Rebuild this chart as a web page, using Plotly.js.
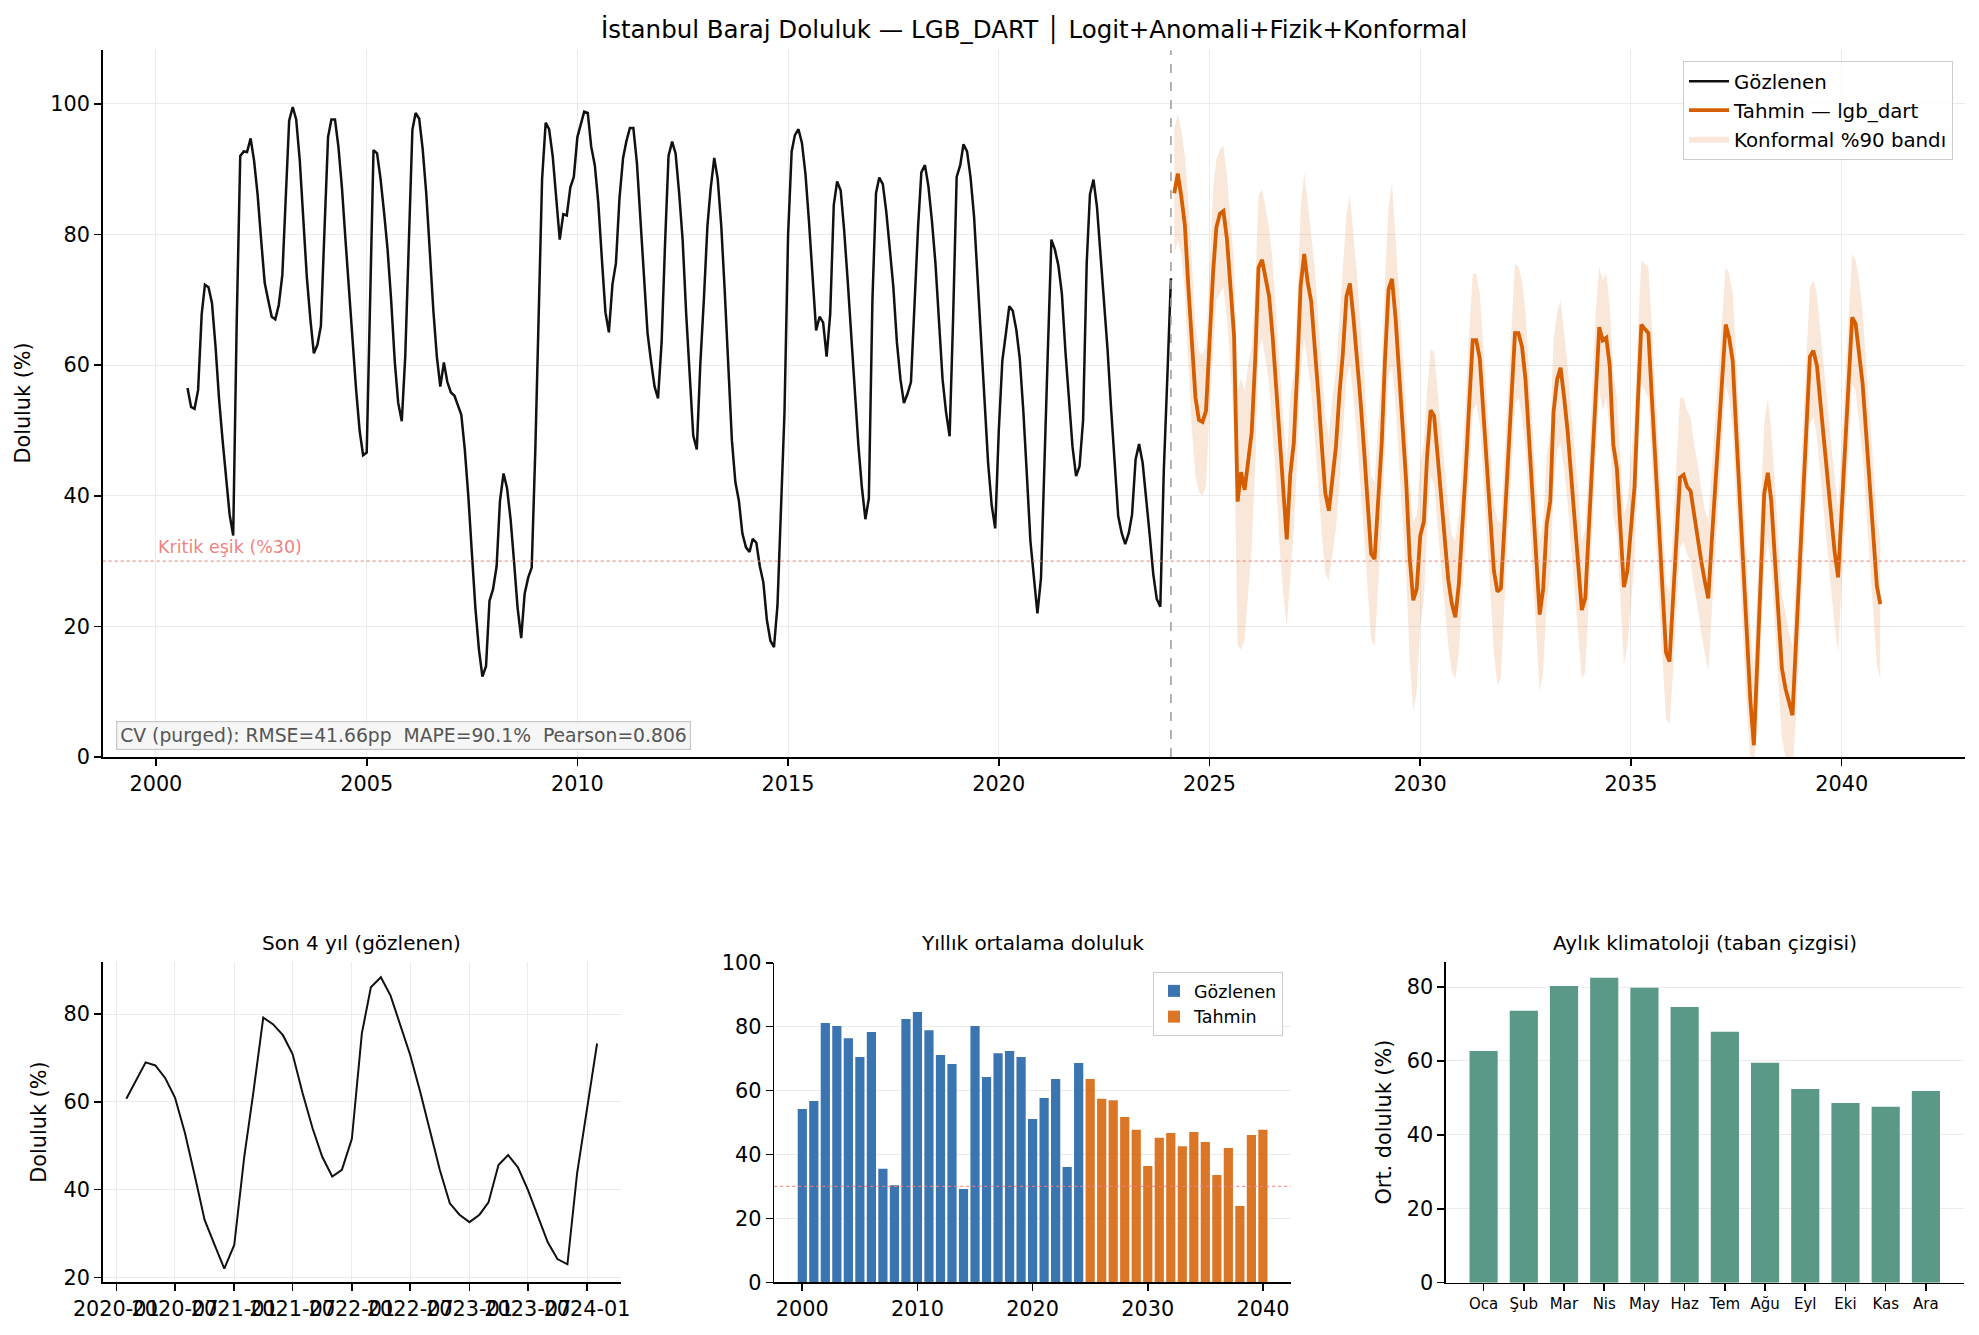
<!DOCTYPE html>
<html>
<head>
<meta charset="utf-8">
<script src="https://cdn.plot.ly/plotly-3.0.1.min.js"></script>
<style>
html,body{margin:0;padding:0;background:#fff;}
#chart{width:1979px;height:1335px;}
</style>
</head>
<body>
<div id="chart"></div>
<script>
// ---------------- DATA ----------------
// Observed monthly fill (%), Oct 2000 .. Feb 2024
const obsStart = {year: 2000, month: 10};
const obsValues = [
  56.5, 53.6, 53.3,
  56.2, 67.8, 72.3, 71.9, 69.5, 62.8, 54.9, 48.5, 42.8, 37.1, 33.9, 66.2,
  92.0, 92.7, 92.6, 94.7, 91.3, 86.0, 79.2, 72.6, 69.9, 67.4, 67.0, 69.2,
  73.8, 85.6, 97.4, 99.5, 97.6, 91.3, 82.0, 73.5, 67.0, 61.8, 63.1, 66.0,
  80.6, 94.9, 97.6, 97.6, 93.4, 87.0, 79.2, 71.3, 62.8, 56.3, 49.9, 46.2,
  46.6, 70.0, 92.9, 92.4, 88.5, 83.3, 77.7, 69.9, 60.6, 54.2, 51.4, 61.3,
  80.0, 96.0, 98.6, 97.7, 93.1, 86.3, 77.7, 68.5, 61.3, 56.7, 60.4, 57.4,
  55.8, 55.3, 53.9, 52.4, 47.1, 39.9, 31.4, 22.8, 16.4, 12.3, 13.9, 23.9,
  25.7, 29.2, 39.2, 43.4, 41.2, 36.4, 29.9, 22.8, 18.2, 25.0, 27.5, 29.0,
  46.8, 66.5, 88.4, 97.1, 96.1, 92.0, 85.6, 79.2, 83.1, 82.9, 87.2, 88.8,
  94.9, 97.0, 98.8, 98.6, 93.4, 90.6, 84.9, 76.3, 68.1, 65.0, 72.4, 75.6,
  85.6, 91.7, 94.2, 96.3, 96.3, 90.9, 82.7, 72.8, 64.9, 60.6, 56.7, 54.9,
  63.5, 79.2, 92.0, 94.2, 92.4, 86.3, 79.2, 67.8, 59.2, 49.2, 47.1, 60.0,
  70.0, 81.3, 87.0, 91.7, 88.5, 81.3, 71.3, 60.6, 48.5, 42.1, 39.2, 34.2,
  32.1, 31.4, 33.4, 32.8, 29.2, 26.7, 21.0, 17.8, 16.8, 23.2, 38.5, 52.8,
  79.9, 92.7, 95.2, 96.1, 94.0, 89.2, 82.0, 74.2, 65.3, 67.4, 66.5, 61.3,
  67.8, 84.5, 88.1, 86.7, 80.6, 72.8, 64.2, 56.3, 47.8, 41.4, 36.4, 39.6,
  70.0, 86.3, 88.7, 87.7, 83.5, 77.7, 72.0, 63.5, 57.8, 54.2, 55.6, 57.4,
  69.9, 81.3, 89.5, 90.6, 87.4, 82.0, 75.6, 67.0, 57.8, 52.8, 49.1, 67.0,
  88.8, 90.6, 93.8, 92.7, 88.8, 82.7, 73.5, 63.5, 54.2, 44.9, 38.5, 35.0,
  49.9, 60.7, 64.6, 69.0, 68.3, 65.4, 61.0, 52.9, 43.0, 33.1, 27.4, 22.0,
  27.4, 47.5, 62.0, 79.2, 77.7, 75.2, 70.9, 62.0, 54.0, 47.5, 43.0, 44.5,
  51.6, 75.6, 86.1, 88.4, 84.2, 77.1, 70.7, 62.3, 53.2, 44.5, 36.9, 34.3,
  32.6, 34.3, 37.1, 45.6, 47.9, 45.0, 40.0, 34.0, 28.0, 24.2, 23.0, 43.7,
  58.2, 73.3
];

// Forecast (lgb_dart), Mar 2024 .. Dec 2040
const fcStart = {year: 2024, month: 3};
const fcValues = [
  86.3, 89.3, 85.8, 81.4, 72.0, 63.0, 55.0, 51.6, 51.3, 53.0,
  64.0, 74.3, 81.1, 83.2, 83.6, 79.2, 72.0, 64.5, 39.1, 43.6, 40.9, 45.4,
  49.7, 61.0, 74.9, 76.1, 73.2, 70.5, 64.5, 56.3, 47.5, 39.9, 33.3, 43.2,
  48.1, 59.6, 72.1, 77.0, 72.7, 69.7, 63.4, 55.7, 47.5, 40.4, 37.7, 43.2,
  47.5, 55.7, 61.7, 70.5, 72.5, 67.2, 61.7, 54.6, 47.0, 38.8, 31.1, 30.3,
  40.4, 48.1, 60.7, 71.6, 73.2, 67.2, 59.0, 50.8, 42.1, 30.6, 24.0, 25.7,
  33.9, 36.0, 46.0, 53.1, 52.2, 46.0, 40.0, 33.5, 27.1, 23.5, 21.4, 26.4,
  35.0, 44.5, 54.0, 63.8, 63.8, 61.0, 53.0, 44.5, 36.5, 28.5, 25.3, 25.8,
  35.5, 45.5, 55.0, 64.9, 64.9, 62.8, 57.8, 48.5, 39.5, 30.5, 21.8, 25.7,
  35.7, 39.2, 52.8, 57.8, 59.6, 55.0, 49.9, 43.0, 36.0, 29.0, 22.5, 24.3,
  35.0, 46.0, 57.1, 65.8, 63.8, 64.2, 59.9, 47.8, 44.2, 35.0, 26.0, 28.5,
  35.0, 41.4, 54.0, 66.2, 65.5, 64.9, 55.0, 45.0, 35.5, 26.0, 16.0, 14.6,
  24.0, 33.5, 42.8, 43.2, 41.4, 40.7, 37.0, 33.5, 30.0, 27.0, 24.3, 33.0,
  41.5, 50.0, 58.0, 66.2, 64.2, 60.6, 50.0, 39.5, 29.0, 18.5, 8.6, 1.8,
  14.5, 27.5, 40.3, 43.5, 39.2, 30.5, 22.0, 13.6, 10.5, 8.2, 6.4, 17.4,
  28.4, 39.3, 50.3, 61.3, 62.2, 59.9, 54.2, 48.5, 42.8, 37.1, 31.4, 27.5,
  37.5, 47.4, 57.4, 67.3, 66.3, 62.0, 57.1, 49.4, 41.6, 33.9, 26.2, 23.4
];

// Conformal 90% band, lower and upper
const bandLower = [
  77, 79, 77, 71, 60, 50, 43, 40.5, 40, 41.5,
  53, 62, 70, 71, 72, 67, 60, 50, 17, 16.5, 18, 25,
  32, 45, 62, 64, 61, 57, 50, 42, 32, 25, 20, 28,
  35, 46, 59, 64, 60, 56, 49, 41, 34, 28, 27, 31,
  35, 42, 49, 58, 60, 55, 49, 42, 34, 26, 18, 17,
  27, 35, 47, 58, 60, 54, 45, 37, 28, 15, 7, 10,
  20, 24, 35, 43, 42, 35, 29, 23, 17, 13, 12, 16,
  24, 33, 43, 53, 54, 51, 43, 34, 25, 16, 11, 12,
  24, 34, 44, 54, 55, 52, 47, 38, 29, 19, 10, 13,
  24, 28, 41, 47, 48, 44, 39, 32, 25, 19, 12, 13,
  24, 35, 46, 56, 53, 55, 50, 37, 34, 24, 14, 17,
  24, 30, 44, 57, 56, 55, 45, 34, 24, 15, 6, 5,
  13, 23, 32, 33, 31, 30, 26, 23, 19, 16, 13, 22,
  31, 40, 48, 57, 55, 50, 39, 29, 18, 7, 0, -1,
  4, 17, 29, 33, 29, 20, 11, 3, 0, -1.5, -2, 6,
  17, 28, 39, 51, 52, 49, 43, 37, 31, 26, 20, 16,
  26, 36, 46, 57, 56, 51, 46, 38, 30, 22, 14, 12
];
const bandUpper = [
  96, 98.5, 96, 92, 85, 76, 66, 62, 61.5, 63,
  76, 87, 91.5, 93, 93.5, 89, 82, 76, 56, 58, 56, 60,
  63, 72, 86, 87, 84, 81, 76, 68, 59, 52, 45, 55,
  59, 70, 84, 89.5, 85, 80, 75, 67, 59, 52, 49, 55,
  59, 67, 74, 83, 86, 80, 74, 66, 59, 50, 43, 42,
  52, 60, 73, 84, 88, 80, 71, 62, 53, 42, 36, 37,
  45, 48, 56, 62.5, 62, 56, 50, 44, 38, 34, 33, 37,
  46, 55, 65, 74, 74, 71, 63, 55, 47, 39, 36, 36,
  46, 56, 66, 75.5, 75, 73, 68, 59, 50, 41, 33, 36,
  46, 50, 64, 68, 70, 65, 60, 53, 47, 41, 33, 35,
  45, 57, 68, 75, 73, 74, 69, 59, 55, 46, 37, 39,
  46, 52, 65, 76, 75.5, 75, 66, 56, 47, 37, 27, 25,
  35, 45, 55, 55, 53, 52, 48, 45, 41, 38, 36, 44,
  52, 61, 68, 75, 74, 71, 61, 51, 40, 30, 20, 13,
  26, 38, 51, 55, 50, 42, 33, 25, 22, 19, 17, 29,
  40, 51, 62, 72, 73, 71, 65, 60, 54, 48, 43, 38,
  48, 58, 68, 77, 76, 73, 68, 60, 53, 45, 37, 33
];

// Annual means
const annualObsYears = [2000,2001,2002,2003,2004,2005,2006,2007,2008,2009,2010,2011,2012,
                        2013,2014,2015,2016,2017,2018,2019,2020,2021,2022,2023,2024];
const annualObsValues = [54.2,56.7,81.1,80.2,76.4,70.5,78.3,35.5,30.4,82.4,84.6,78.9,71.1,
                         68.3,29.2,80.2,64.2,71.7,72.4,70.5,51.1,57.7,63.6,36.1,68.6];
const annualFcYears = [2025,2026,2027,2028,2029,2030,2031,2032,2033,2034,2035,2036,2037,2038,2039,2040];
const annualFcValues = [63.6,57.4,57.0,51.7,47.7,36.4,45.2,46.7,42.6,47.0,43.9,33.6,42.0,23.9,46.1,47.7];

// Monthly climatology
const monthLabels = ['Oca','Şub','Mar','Nis','May','Haz','Tem','Ağu','Eyl','Eki','Kas','Ara'];
const climValues = [62.7,73.6,80.3,82.5,79.8,74.6,67.9,59.5,52.4,48.6,47.6,51.9];

const criticalLevel = 30;
const yearTicks = [2000,2005,2010,2015,2020,2025,2030,2035,2040];
const recentTickLabels = ['2020-01','2020-07','2021-01','2021-07','2022-01','2022-07','2023-01','2023-07','2024-01'];
const recentMonths = 49;

// ---------------- HELPERS ----------------
function monthSeq(start, n) {
  const out = [];
  let y = start.year, m = start.month;
  for (let i = 0; i < n; i++) {
    out.push(y + '-' + String(m).padStart(2, '0') + '-01');
    m++; if (m > 12) { m = 1; y++; }
  }
  return out;
}
const W = 1979, H = 1335;
const px = v => v / W;
const py = v => 1 - v / H;

const obsDates = monthSeq(obsStart, obsValues.length);
const fcDates = monthSeq(fcStart, fcValues.length);
const recentDates = obsDates.slice(-recentMonths);
const recentValues = obsValues.slice(-recentMonths);
const lastObsDate = obsDates[obsDates.length - 1];

const FONT = 'DejaVu Sans, Arial, sans-serif';
const TICK = 20.8;
const axBase = {
  showline: true, linecolor: '#000', linewidth: 1.6,
  ticks: 'outside', ticklen: 7, tickwidth: 1.6, tickcolor: '#000',
  tickfont: {family: FONT, size: TICK, color: '#000'},
  gridcolor: '#ebebeb', gridwidth: 1, zeroline: false
};
const ax = o => Object.assign({}, axBase, o);

// ---------------- TRACES ----------------
const traces = [
  {x: fcDates, y: bandLower, type: 'scatter', mode: 'lines', line: {width: 0, color: 'rgba(213,94,0,0)'},
   showlegend: false, hoverinfo: 'skip', xaxis: 'x', yaxis: 'y'},
  {x: fcDates, y: bandUpper, type: 'scatter', mode: 'lines', line: {width: 0, color: 'rgba(213,94,0,0)'},
   fill: 'tonexty', fillcolor: 'rgba(213,94,0,0.15)', name: 'Konformal %90 bandı',
   legend: 'legend', legendrank: 3, xaxis: 'x', yaxis: 'y'},
  {x: obsDates, y: obsValues, type: 'scatter', mode: 'lines', line: {color: '#111111', width: 2.5},
   name: 'Gözlenen', legend: 'legend', legendrank: 1, xaxis: 'x', yaxis: 'y'},
  {x: fcDates, y: fcValues, type: 'scatter', mode: 'lines', line: {color: '#d55e00', width: 3.8},
   name: 'Tahmin — lgb_dart', legend: 'legend', legendrank: 2, xaxis: 'x', yaxis: 'y'},
  {x: recentDates, y: recentValues, type: 'scatter', mode: 'lines', line: {color: '#111111', width: 2},
   showlegend: false, xaxis: 'x2', yaxis: 'y2'},
  {x: annualObsYears, y: annualObsValues, type: 'bar', width: 0.8, marker: {color: '#3a75b1', line: {width: 0}},
   name: 'Gözlenen', legend: 'legend2', xaxis: 'x3', yaxis: 'y3'},
  {x: annualFcYears, y: annualFcValues, type: 'bar', width: 0.8, marker: {color: 'rgba(213,94,0,0.85)', line: {width: 0}},
   name: 'Tahmin', legend: 'legend2', xaxis: 'x3', yaxis: 'y3'},
  {x: monthLabels, y: climValues, type: 'bar', width: 0.7, marker: {color: '#5a9887', line: {width: 0}},
   showlegend: false, xaxis: 'x4', yaxis: 'y4'}
];

// ---------------- LAYOUT ----------------
const layout = {
  width: W, height: H, autosize: false,
  margin: {l: 0, r: 0, t: 0, b: 0, pad: 0},
  paper_bgcolor: '#fff', plot_bgcolor: '#fff',
  font: {family: FONT, color: '#000', size: TICK},
  barmode: 'overlay',
  hovermode: false,
  xaxis: ax({domain: [px(102.7), px(1965)], anchor: 'y', type: 'date',
    range: ['1998-09-27', '2042-12-05'],
    tickvals: yearTicks.map(y => y + '-01-01'), ticktext: yearTicks.map(String), showgrid: true}),
  yaxis: ax({domain: [py(757), py(50.2)], anchor: 'x', range: [0, 108.2],
    tickvals: [0, 20, 40, 60, 80, 100], showgrid: true}),
  xaxis2: ax({domain: [px(102.8), px(620.6)], anchor: 'y2', type: 'date',
    range: ['2019-11-20', '2024-04-14'],
    tickvals: recentTickLabels.map(s => s + '-01'), ticktext: recentTickLabels, tickangle: 0, showgrid: true}),
  yaxis2: ax({domain: [py(1282.3), py(962.3)], anchor: 'x2', range: [18.9, 91.8],
    tickvals: [20, 40, 60, 80], showgrid: true}),
  xaxis3: ax({domain: [px(774.2), px(1291)], anchor: 'y3', range: [1997.56, 2042.44],
    tickvals: [2000, 2010, 2020, 2030, 2040], showgrid: false}),
  yaxis3: ax({domain: [py(1282.3), py(962.7)], anchor: 'x3', range: [0, 100],
    tickvals: [0, 20, 40, 60, 80, 100], showgrid: true, layer: 'above traces'}),
  xaxis4: ax({domain: [px(1446), px(1963.5)], anchor: 'y4', type: 'category', range: [-0.935, 11.935],
    showgrid: false, tickfont: {family: FONT, size: 15, color: '#000'}, tickangle: 0}),
  yaxis4: ax({domain: [py(1282.7), py(962.3)], anchor: 'x4', range: [0, 86.7],
    tickvals: [0, 20, 40, 60, 80], showgrid: true, layer: 'above traces'}),
  legend: {x: px(1953), y: py(61), xanchor: 'right', yanchor: 'top',
    bgcolor: 'rgba(255,255,255,0.85)', bordercolor: '#cccccc', borderwidth: 1,
    font: {family: FONT, size: 19.8, color: '#000'}, traceorder: 'normal', itemwidth: 40},
  legend2: {x: px(1283), y: py(972), xanchor: 'right', yanchor: 'top',
    bgcolor: 'rgba(255,255,255,0.85)', bordercolor: '#cccccc', borderwidth: 1,
    font: {family: FONT, size: 17.5, color: '#000'}, traceorder: 'normal'},
  shapes: [
    {type: 'line', xref: 'x domain', x0: 0, x1: 1, yref: 'y', y0: criticalLevel, y1: criticalLevel,
     line: {color: 'rgba(240,128,128,0.85)', width: 1.3, dash: 'dot'}},
    {type: 'line', xref: 'x', x0: lastObsDate, x1: lastObsDate, yref: 'y domain', y0: 0, y1: 1,
     line: {color: '#9a9a9a', width: 1.5, dash: 'dash'}},
    {type: 'line', xref: 'x3 domain', x0: 0, x1: 1, yref: 'y3', y0: criticalLevel, y1: criticalLevel,
     line: {color: 'rgba(240,128,128,0.85)', width: 1.3, dash: 'dot'}}
  ],
  annotations: [
    {text: 'İstanbul Baraj Doluluk — LGB_DART │ Logit+Anomali+Fizik+Konformal', xref: 'paper', yref: 'paper',
     x: px(1034), y: py(30), xanchor: 'center', yanchor: 'middle', showarrow: false,
     font: {family: FONT, size: 24.5, color: '#000'}},
    {text: 'Doluluk (%)', xref: 'paper', yref: 'paper', x: px(23), y: py(403.6), textangle: -90,
     xanchor: 'center', yanchor: 'middle', showarrow: false, font: {family: FONT, size: 20.8, color: '#000'}},
    {text: 'Kritik eşik (%30)', xref: 'x', yref: 'y', x: '2000-01-01', y: criticalLevel, xanchor: 'left', yanchor: 'bottom',
     yshift: 2, showarrow: false, font: {family: FONT, size: 17.5, color: 'rgba(240,120,120,0.95)'}},
    {text: 'CV (purged): RMSE=41.66pp  MAPE=90.1%  Pearson=0.806', xref: 'paper', yref: 'paper',
     x: px(116), y: py(750), xanchor: 'left', yanchor: 'bottom', showarrow: false,
     bgcolor: 'rgba(245,245,245,0.9)', bordercolor: '#c8c8c8', borderwidth: 1.2, borderpad: 3,
     font: {family: FONT, size: 18.75, color: '#555555'}},
    {text: 'Son 4 yıl (gözlenen)', xref: 'paper', yref: 'paper', x: px(361.7), y: py(943),
     xanchor: 'center', yanchor: 'middle', showarrow: false, font: {family: FONT, size: 20, color: '#000'}},
    {text: 'Doluluk (%)', xref: 'paper', yref: 'paper', x: px(39.4), y: py(1122.3), textangle: -90,
     xanchor: 'center', yanchor: 'middle', showarrow: false, font: {family: FONT, size: 20.8, color: '#000'}},
    {text: 'Yıllık ortalama doluluk', xref: 'paper', yref: 'paper', x: px(1032.6), y: py(943),
     xanchor: 'center', yanchor: 'middle', showarrow: false, font: {family: FONT, size: 20, color: '#000'}},
    {text: 'Aylık klimatoloji (taban çizgisi)', xref: 'paper', yref: 'paper', x: px(1704.7), y: py(943),
     xanchor: 'center', yanchor: 'middle', showarrow: false, font: {family: FONT, size: 20, color: '#000'}},
    {text: 'Ort. doluluk (%)', xref: 'paper', yref: 'paper', x: px(1383), y: py(1122.5), textangle: -90,
     xanchor: 'center', yanchor: 'middle', showarrow: false, font: {family: FONT, size: 20.8, color: '#000'}}
  ]
};

Plotly.newPlot('chart', traces, layout, {staticPlot: true, displayModeBar: false});
</script>
</body>
</html>
